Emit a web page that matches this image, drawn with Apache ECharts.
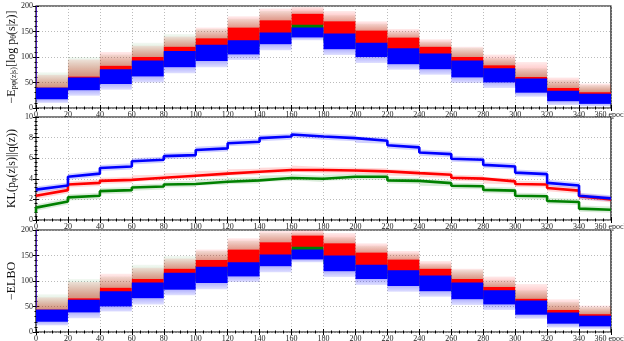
<!DOCTYPE html>
<html>
<head>
<meta charset="utf-8">
<script src="https://cdn.jsdelivr.net/npm/echarts@6/dist/echarts.min.js"></script>
<style>
  html, body { margin: 0; padding: 0; background: #fff; }
  #chart { width: 624px; height: 341px; }
</style>
</head>
<body>
<div id="chart"></div>
<script>
// one value per 20-epoch segment (0-20, 20-40, ... 340-360)

// top panel: reconstruction term
const recBlueLo = [17, 35, 47, 62, 80, 92, 105, 125, 138, 115, 100, 86, 76, 60, 50, 30, 13, 8];
const recBlueHi = [40, 60, 76, 93, 112, 124, 133, 148, 158, 146, 128, 117, 107, 93, 78, 58, 34, 28];
const recBlueFaintLo = [10, 24, 36, 50, 68, 80, 94, 113, 133, 104, 88, 75, 65, 49, 39, 22, 6, 3];
const recRedLo = [28, 48, 65, 84, 100, 114, 127, 147, 163, 139, 124, 110, 90, 80, 65, 45, 22, 16];
const recRedHi = [40, 62, 83, 100, 120, 137, 158, 172, 185, 170, 152, 138, 120, 100, 84, 61, 39, 31];
const recRedFaintHi = [65, 95, 110, 122, 140, 158, 180, 195, 198, 190, 170, 155, 135, 120, 105, 90, 60, 48];
const recGreenLo = [28, 46, 62, 80, 96, 108, 120, 138, 150, 130, 116, 102, 85, 74, 60, 42, 20, 15];
const recGreenHi = [36, 56, 74, 92, 110, 126, 140, 158, 167, 152, 136, 124, 108, 92, 78, 56, 34, 28];
const recGreenFaintHi = [70, 100, 105, 128, 145, 155, 175, 190, 190, 182, 165, 150, 130, 118, 98, 78, 55, 45];

// middle panel: KL term, value at start and end of each segment
const klBlueStart = [2.95, 4.2, 5.05, 5.7, 6.2, 6.8, 7.45, 7.95, 8.3, 8.1, 7.8, 7.25, 6.55, 5.95, 5.35, 4.6, 3.6, 2.35];
const klBlueEnd = [3.35, 4.5, 5.2, 5.85, 6.3, 6.95, 7.6, 8.1, 8.1, 7.95, 7.7, 7.05, 6.4, 5.85, 5.2, 4.45, 3.35, 2.1];
const klRedStart = [2.35, 3.45, 3.8, 4.05, 4.25, 4.45, 4.62, 4.78, 4.98, 4.82, 4.78, 4.62, 4.45, 4.1, 3.85, 3.5, 3.1, 2.3];
const klRedEnd = [2.9, 3.6, 3.9, 4.1, 4.3, 4.5, 4.68, 4.85, 4.85, 4.8, 4.72, 4.55, 4.4, 4.02, 3.75, 3.45, 2.85, 2.0];
const klGreenStart = [1.2, 2.2, 2.8, 3.15, 3.45, 3.65, 3.8, 4.02, 4.15, 4.1, 4.2, 3.85, 3.62, 3.32, 2.92, 2.35, 1.85, 1.1];
const klGreenEnd = [1.8, 2.35, 2.9, 3.25, 3.5, 3.72, 3.85, 4.08, 4.0, 4.2, 4.2, 3.8, 3.58, 3.28, 2.85, 2.3, 1.75, 1.0];
const klGreenFirst = 0.7;

// bottom panel: -ELBO
const elboBlueLo = [20, 38, 50, 66, 83, 96, 109, 129, 142, 119, 104, 90, 80, 64, 54, 34, 16, 11];
const elboBlueHi = [44, 63, 80, 97, 116, 128, 137, 152, 162, 150, 132, 121, 111, 97, 82, 62, 38, 32];
const elboBlueFaintLo = [13, 27, 40, 54, 72, 84, 98, 117, 137, 108, 92, 79, 69, 53, 43, 26, 9, 6];
const elboRedLo = [32, 51, 69, 88, 104, 118, 131, 151, 167, 143, 128, 114, 94, 84, 69, 49, 26, 19];
const elboRedHi = [44, 66, 87, 104, 124, 141, 162, 176, 189, 174, 156, 142, 124, 104, 88, 65, 43, 35];
const elboRedFaintHi = [68, 98, 114, 126, 144, 162, 184, 198, 200, 194, 174, 159, 139, 124, 109, 94, 64, 52];
const elboGreenLo = [32, 50, 66, 84, 100, 112, 124, 142, 154, 134, 120, 106, 89, 78, 64, 46, 24, 18];
const elboGreenHi = [40, 60, 78, 96, 114, 130, 144, 162, 171, 156, 140, 128, 112, 96, 82, 60, 38, 32];
const elboGreenFaintHi = [74, 104, 109, 132, 149, 159, 179, 194, 194, 186, 169, 154, 134, 122, 102, 82, 59, 49];

// first epoch: the loss starts very high
const firstSpikeRec = [[0, 0.6, 45, 200, 45, 200]];
const firstSpikeElbo = [[0, 0.6, 48, 200, 48, 200]];

const segLen = 20;
const serif = 'Liberation Serif';

const flat = (lo, hi) => lo.map((l, i) => [i * segLen, (i + 1) * segLen, l, hi[i], l, hi[i]]);
const sloped = (start, end, w) => start.map((s, i) => [i * segLen, (i + 1) * segLen, s - w, s + w, end[i] - w, end[i] + w]);
const steps = (start, end) => {
  const pts = [];
  start.forEach((s, i) => { pts.push([i * segLen, s]); pts.push([(i + 1) * segLen, end[i]]); });
  return pts;
};

const fade = (rgb, top, bottom) => new echarts.graphic.LinearGradient(0, 0, 0, 1, [
  { offset: 0, color: 'rgba(' + rgb + ',' + top + ')' },
  { offset: 1, color: 'rgba(' + rgb + ',' + bottom + ')' }
]);

const band = (name, gi, data, fill) => ({
  name: name,
  type: 'custom',
  xAxisIndex: gi * 2,
  yAxisIndex: gi * 2,
  clip: true,
  silent: true,
  encode: { x: [0, 1], y: [2, 3, 4, 5] },
  data: data,
  renderItem: (params, api) => {
    const x0 = api.value(0), x1 = api.value(1);
    const pts = [
      api.coord([x0, api.value(2)]),
      api.coord([x0, api.value(3)]),
      api.coord([x1, api.value(5)]),
      api.coord([x1, api.value(4)])
    ];
    return { type: 'polygon', shape: { points: pts }, style: { fill: fill, stroke: null } };
  }
});

const stepLine = (name, data, color) => ({
  name: name,
  type: 'line',
  xAxisIndex: 2,
  yAxisIndex: 2,
  data: data,
  showSymbol: false,
  silent: true,
  lineStyle: { color: color, width: 2.6 }
});

const grids = [
  { left: 36, right: 13, top: 6, height: 102 },
  { left: 36, right: 13, top: 117, height: 103 },
  { left: 36, right: 13, top: 230, height: 102 }
];

const labelStyle = { fontFamily: serif, fontSize: 8, color: '#222' };
const xAxes = [];
const yAxes = [];
const yRanges = [[0, 200, 50], [0, 10, 2], [0, 200, 50]];
const yNames = [
  '{n|−E}{s|pφ(z|s)}{n|[log p}{s|θ}{n|(s|z)]}',
  '{n|KL(p}{s|φ}{n|(z|s)||q(z))}',
  '{n|−ELBO}'
];

grids.forEach((g, i) => {
  g.show = true;
  g.borderColor = '#000';
  g.borderWidth = 1.2;
  g.containLabel = false;
  g.outerBoundsMode = 'none';
  ['bottom', 'top'].forEach(pos => {
    xAxes.push({
      type: 'value', gridIndex: i, position: pos, min: 0, max: 360, interval: 20,
      axisLine: { show: false },
      axisTick: { show: true, inside: true, length: 3, lineStyle: { color: '#000' } },
      minorTick: { show: true, splitNumber: 4, length: 1.5, lineStyle: { color: '#000' } },
      splitLine: { show: pos === 'bottom', lineStyle: { color: '#aaa', type: [1, 2], width: 0.8 } },
      axisLabel: {
        show: pos === 'bottom', margin: 3, ...labelStyle,
        formatter: v => v === 360 ? '360 epoch' : String(v)
      }
    });
  });
  ['left', 'right'].forEach(pos => {
    const r = yRanges[i];
    yAxes.push({
      type: 'value', gridIndex: i, position: pos, min: r[0], max: r[1], interval: r[2],
      axisLine: { show: false },
      axisTick: { show: true, inside: true, length: 3, lineStyle: { color: '#000' } },
      minorTick: { show: true, splitNumber: 5, length: 1.5, lineStyle: { color: '#000' } },
      splitLine: { show: pos === 'left', lineStyle: { color: '#aaa', type: [1, 2], width: 0.8 } },
      axisLabel: { show: pos === 'left', margin: 3, ...labelStyle },
      name: pos === 'left' ? yNames[i] : '',
      nameLocation: 'middle',
      nameRotate: 90,
      nameGap: 18,
      nameMoveOverlap: false,
      nameTextStyle: {
        rich: {
          n: { fontFamily: serif, fontSize: 12, color: '#111' },
          s: { fontFamily: serif, fontSize: 8, color: '#111', verticalAlign: 'bottom', padding: [4, 0, 0, 0] }
        }
      }
    });
  });
});

const BLUE = '0,0,255', RED = '255,0,0', GREEN = '0,128,0';

const lossPanel = (gi, bLo, bHi, bFaintLo, rLo, rHi, rFaintHi, gLo, gHi, gFaintHi, spike) => [
  band('green noise', gi, flat(gHi, gFaintHi), fade(GREEN, 0.05, 0.28)),
  band('red noise', gi, flat(rHi, rFaintHi), fade(RED, 0.08, 0.35)),
  band('blue noise', gi, flat(bFaintLo, bLo), fade(BLUE, 0.3, 0.12)),
  band('green', gi, flat(gLo, gHi), 'rgb(0,128,0)'),
  band('red', gi, flat(rLo, rHi), 'rgb(255,0,0)'),
  band('blue', gi, flat(bLo, bHi), 'rgb(0,0,255)'),
  band('first epoch', gi, spike, 'rgba(60,0,200,0.8)')
];

const klPanel = () => [
  band('green noise', 1, sloped(klGreenStart, klGreenEnd, 0.3), 'rgba(' + GREEN + ',0.15)'),
  band('red noise', 1, sloped(klRedStart, klRedEnd, 0.3), 'rgba(' + RED + ',0.15)'),
  band('blue noise', 1, sloped(klBlueStart, klBlueEnd, 0.3), 'rgba(' + BLUE + ',0.18)'),
  stepLine('green', [[0, klGreenFirst]].concat(steps(klGreenStart, klGreenEnd)), 'rgb(0,128,0)'),
  stepLine('red', steps(klRedStart, klRedEnd), 'rgb(255,0,0)'),
  stepLine('blue', steps(klBlueStart, klBlueEnd), 'rgb(0,0,255)')
];

const chart = echarts.init(document.getElementById('chart'), null, { renderer: 'canvas' });
chart.setOption({
  animation: false,
  backgroundColor: '#fff',
  grid: grids,
  xAxis: xAxes,
  yAxis: yAxes,
  series: [
    ...lossPanel(0, recBlueLo, recBlueHi, recBlueFaintLo, recRedLo, recRedHi, recRedFaintHi,
      recGreenLo, recGreenHi, recGreenFaintHi, firstSpikeRec),
    ...klPanel(),
    ...lossPanel(2, elboBlueLo, elboBlueHi, elboBlueFaintLo, elboRedLo, elboRedHi, elboRedFaintHi,
      elboGreenLo, elboGreenHi, elboGreenFaintHi, firstSpikeElbo)
  ]
});
</script>
</body>
</html>
